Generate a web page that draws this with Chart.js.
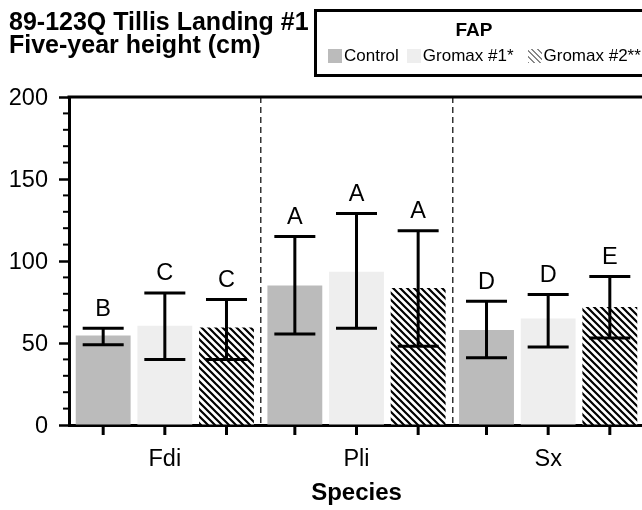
<!DOCTYPE html>
<html>
<head>
<meta charset="utf-8">
<title>Five-year height</title>
<script src="https://cdn.jsdelivr.net/npm/chart.js@4.4.0/dist/chart.umd.min.js"></script>
<style>
    html, body { margin: 0; padding: 0; background: #fff; overflow: hidden; }
    #wrap { position: relative; width: 644px; height: 510px; font-family: 'Liberation Sans', Arial, sans-serif; color: #000; }
    #chart { position: absolute; left: 0; top: 0; }
    #title { position: absolute; left: 9px; top: 9.5px; font-weight: bold; font-size: 25px; line-height: 23.5px; white-space: nowrap; }
    #legend-box { position: absolute; left: 314px; top: 9px; width: 360px; height: 68px; box-sizing: border-box; border: 3px solid #000; }
    #legend-title { position: absolute; left: 315px; width: 318px; top: 20px; text-align: center; font-weight: bold; font-size: 19px; line-height: 19px; }
    #legend-items { position: absolute; left: 328px; top: 49px; height: 14px; display: flex; align-items: center; font-size: 17px; line-height: 14px; white-space: nowrap; }
    .swatch { width: 14px; height: 14px; margin-right: 2px; }
</style>
</head>
<body>
<div id="wrap">
    <canvas id="chart" width="644" height="510"></canvas>
    <div id="title">89-123Q Tillis Landing #1<br>Five-year height (cm)</div>
    <div id="legend-box"></div>
    <div id="legend-title">FAP</div>
    <div id="legend-items"></div>
</div>
<script>
// categories and series
const categories = ['Fdi', 'Pli', 'Sx'];
const seriesNames = ['Control', 'Gromax #1*', 'Gromax #2**'];

const controlMeans = [54.5, 85, 58];
const gromax1Means = [60.5, 93.5, 65];
const gromax2Means = [59.5, 83.5, 72];

// error bar ends
const controlLow = [49, 55.5, 41];
const controlHigh = [59, 115, 75.5];
const gromax1Low = [40, 59, 47.5];
const gromax1High = [80.5, 129, 79.5];
const gromax2Low = [40, 48, 53];
const gromax2High = [76.5, 118.5, 90.5];

// significance letters above the bars
const controlLetters = ['B', 'A', 'D'];
const gromax1Letters = ['C', 'A', 'D'];
const gromax2Letters = ['C', 'A', 'E'];

const yTicks = [0, 50, 100, 150, 200];

const FONT = "'Liberation Sans', Arial, sans-serif";

function makeHatch() {
    const size = 7;
    const c = document.createElement('canvas');
    c.width = size;
    c.height = size;
    const g = c.getContext('2d');
    g.fillStyle = '#fff';
    g.fillRect(0, 0, size, size);
    g.strokeStyle = '#000';
    g.lineWidth = 2.2;
    g.beginPath();
    g.moveTo(-1, -1); g.lineTo(size + 1, size + 1);
    g.moveTo(-1, size - 1); g.lineTo(1, size + 1);
    g.moveTo(size - 1, -1); g.lineTo(size + 1, 1);
    g.stroke();
    return g.createPattern(c, 'repeat');
}

const hatch = makeHatch();
const seriesFills = ['#bbbbbb', '#eeeeee', hatch];
const legendFills = ['#bbbbbb', '#eeeeee', 'repeating-linear-gradient(45deg, #888 0 1.3px, #fff 1.3px 4px)'];

// html legend
const legendEl = document.getElementById('legend-items');
seriesNames.forEach((name, i) => {
    const sw = document.createElement('span');
    sw.className = 'swatch';
    sw.style.background = legendFills[i];
    const label = document.createElement('span');
    label.textContent = name;
    label.style.marginRight = i === 0 ? '8px' : (i === 1 ? '14px' : '0');
    legendEl.appendChild(sw);
    legendEl.appendChild(label);
});

// error bars, letters, bar ticks, minor y ticks and top frame
const extrasPlugin = {
    id: 'extras',
    afterDraw(chart) {
        const { ctx, chartArea, scales: { y } } = chart;
        ctx.save();
        ctx.strokeStyle = '#000';
        ctx.fillStyle = '#000';

        ctx.lineWidth = 3;
        ctx.beginPath();
        ctx.moveTo(chartArea.left - 1.5, chartArea.top);
        ctx.lineTo(chartArea.right, chartArea.top);
        ctx.stroke();

        ctx.lineWidth = 2;
        for (let v = y.min + 10; v < y.max; v += 10) {
            if (v % 50 === 0) continue;
            const py = y.getPixelForValue(v);
            ctx.beginPath();
            ctx.moveTo(chartArea.left - 6, py);
            ctx.lineTo(chartArea.left, py);
            ctx.stroke();
        }

        ctx.font = '23.5px ' + FONT;
        ctx.textAlign = 'center';
        ctx.textBaseline = 'alphabetic';
        chart.data.datasets.forEach((ds, di) => {
            const meta = chart.getDatasetMeta(di);
            meta.data.forEach((bar, i) => {
                const x = bar.x;
                ctx.lineWidth = 3;
                ctx.beginPath();
                ctx.moveTo(x, chartArea.bottom);
                ctx.lineTo(x, chartArea.bottom + 10);
                ctx.stroke();

                const yLo = y.getPixelForValue(ds.errLow[i]);
                const yHi = y.getPixelForValue(ds.errHigh[i]);
                ctx.beginPath();
                ctx.moveTo(x, yLo); ctx.lineTo(x, yHi);
                ctx.moveTo(x - 20.5, yLo); ctx.lineTo(x + 20.5, yLo);
                ctx.moveTo(x - 20.5, yHi); ctx.lineTo(x + 20.5, yHi);
                ctx.stroke();

                ctx.fillText(ds.letters[i], x, yHi - 12.5);
            });
        });
        ctx.restore();
    }
};

Chart.defaults.font.family = FONT;
Chart.defaults.color = '#000';

const datasets = [
    { label: seriesNames[0], data: controlMeans, errLow: controlLow, errHigh: controlHigh, letters: controlLetters },
    { label: seriesNames[1], data: gromax1Means, errLow: gromax1Low, errHigh: gromax1High, letters: gromax1Letters },
    { label: seriesNames[2], data: gromax2Means, errLow: gromax2Low, errHigh: gromax2High, letters: gromax2Letters }
].map((ds, i) => Object.assign(ds, {
    backgroundColor: seriesFills[i],
    borderWidth: 0,
    categoryPercentage: 0.965,
    barPercentage: 0.89
}));

new Chart(document.getElementById('chart').getContext('2d'), {
    type: 'bar',
    data: { labels: categories, datasets: datasets },
    options: {
        responsive: false,
        animation: false,
        layout: { padding: { top: 97, left: 0, right: 0, bottom: 0 } },
        plugins: {
            legend: { display: false },
            tooltip: { enabled: false }
        },
        scales: {
            x: {
                z: 1,
                offset: true,
                grid: {
                    offset: true,
                    drawTicks: false,
                    lineWidth: 1.5,
                    // dashed separators between species only
                    color: (c) => (c.index > 0 && c.index < categories.length) ? '#333' : 'rgba(0,0,0,0)'
                },
                border: { display: true, color: '#000', width: 3, dash: [6, 4] },
                ticks: { color: '#000', font: { size: 23.5 }, padding: 20 },
                title: {
                    display: true,
                    text: 'Species',
                    color: '#000',
                    font: { size: 24, weight: 'bold' },
                    padding: { top: 0, bottom: 2 }
                },
                afterFit(scale) { scale.height = 85; }
            },
            y: {
                z: 1,
                min: yTicks[0],
                max: yTicks[yTicks.length - 1],
                ticks: { stepSize: yTicks[1] - yTicks[0], color: '#000', font: { size: 23.5 }, padding: 11, labelOffset: 1.5 },
                grid: { drawOnChartArea: false, drawTicks: true, tickLength: 10, tickWidth: 2.5, tickColor: '#000' },
                border: { display: true, color: '#000', width: 3 },
                afterFit(scale) { scale.width = 69; }
            }
        }
    },
    plugins: [extrasPlugin]
});
</script>
</body>
</html>
